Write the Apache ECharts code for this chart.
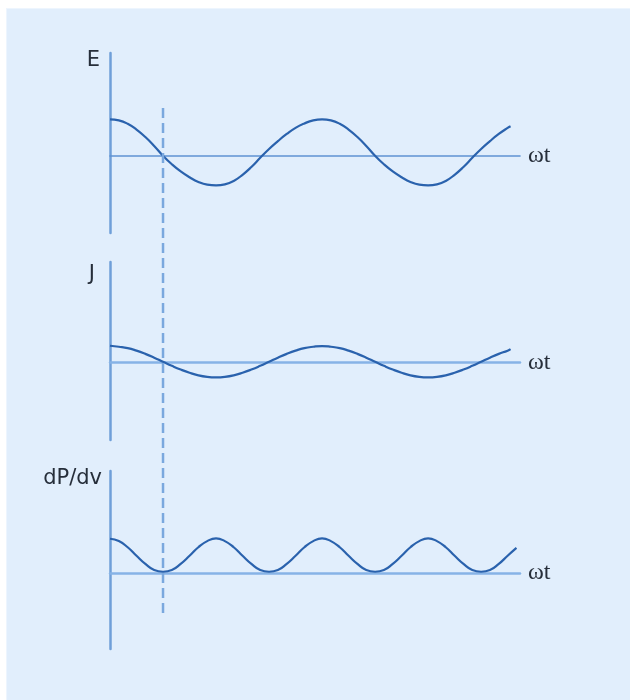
<!DOCTYPE html>
<html>
<head>
<meta charset="utf-8">
<script src="https://cdn.jsdelivr.net/npm/echarts@6/dist/echarts.min.js"></script>
<style>
  html, body { margin: 0; padding: 0; background: #ffffff; }
  #panel { position: absolute; left: 6px; top: 8px; right: 0; bottom: 0; background: #e1eefc; border-left: 1px solid #edf5fe; border-top: 1px solid #edf5fe; }
  #chart { position: absolute; left: 0; top: 0; width: 630px; height: 700px; }
</style>
</head>
<body>
<div id="panel"></div>
<div id="chart"></div>
<script>
// ωt in degrees
const wt = [0, 15, 30, 45, 60, 75, 90, 105, 120, 135, 150, 165, 180, 195, 210, 225, 240, 255, 270, 285, 300, 315, 330, 345,
  360, 375, 390, 405, 420, 435, 450, 465, 480, 495, 510, 525, 540, 555, 570, 585, 600, 615, 630, 645, 660, 675, 680]
const wtP = [0, 15, 30, 45, 60, 75, 90, 105, 120, 135, 150, 165, 180, 195, 210, 225, 240, 255, 270, 285, 300, 315, 330, 345,
  360, 375, 390, 405, 420, 435, 450, 465, 480, 495, 510, 525, 540, 555, 570, 585, 600, 615, 630, 645, 660, 675, 690]
const eVals = [1.07, 1.04, 0.94, 0.77, 0.55, 0.29, 0.00, -0.25, -0.46, -0.63, -0.77, -0.85, -0.87, -0.84, -0.74, -0.56, -0.33, -0.06, 0.20, 0.43, 0.64, 0.82, 0.95, 1.04,
  1.07, 1.04, 0.94, 0.77, 0.55, 0.29, 0.00, -0.25, -0.46, -0.63, -0.77, -0.85, -0.87, -0.84, -0.74, -0.56, -0.33, -0.06, 0.20, 0.43, 0.64, 0.82, 0.87]
const jVals = [0.50, 0.47, 0.43, 0.355, 0.26, 0.15, 0.03, -0.09, -0.20, -0.295, -0.37, -0.415, -0.43, -0.415, -0.37, -0.295, -0.20, -0.09, 0.03, 0.15, 0.26, 0.355, 0.43, 0.47,
  0.49, 0.47, 0.43, 0.355, 0.26, 0.15, 0.03, -0.09, -0.20, -0.295, -0.37, -0.415, -0.43, -0.415, -0.37, -0.295, -0.20, -0.09, 0.03, 0.15, 0.26, 0.355, 0.40]
const dpVals = [1.00, 0.93, 0.75, 0.50, 0.26, 0.08, 0.03, 0.08, 0.26, 0.50, 0.75, 0.93,
  1.01, 0.93, 0.75, 0.50, 0.26, 0.08, 0.03, 0.08, 0.26, 0.50, 0.75, 0.93,
  1.01, 0.93, 0.75, 0.50, 0.26, 0.08, 0.03, 0.08, 0.26, 0.50, 0.75, 0.93,
  1.01, 0.93, 0.75, 0.50, 0.26, 0.08, 0.03, 0.08, 0.26, 0.50, 0.73]
const dashAt = 90 // 虚线位置 ωt = 90°
const yNames = ['E', 'J', 'dP/dv']

const pairs = (xs, ys) => xs.map((x, i) => [x, ys[i]])

const curveColor = '#2a62ad'
const txtColor = '#262e3a'

const xAxisOf = (idx, lineW, lineC, showName) => ({
  gridIndex: idx, type: 'value', min: 0, max: 696,
  name: showName ? 'ωt' : '', nameLocation: 'end', nameGap: 8,
  nameTextStyle: { fontFamily: 'serif', fontSize: 24, color: txtColor, verticalAlign: 'middle' },
  axisLine: { show: showName, onZero: true, lineStyle: { color: lineC, width: lineW } },
  axisTick: { show: false }, axisLabel: { show: false }, splitLine: { show: false }
})
const yAxisOf = (idx, min, max, name, padTop, padRight) => ({
  gridIndex: idx, type: 'value', min: min, max: max,
  name: name, nameLocation: 'end', nameGap: 0,
  nameTextStyle: { fontFamily: 'DejaVu Sans', fontSize: 21, color: txtColor, align: 'right', verticalAlign: 'top', padding: [padTop, padRight, 0, 0] },
  axisLine: { show: name !== '', onZero: true, lineStyle: { color: '#6f9fd9', width: 2.5 } },
  axisTick: { show: false }, axisLabel: { show: false }, splitLine: { show: false }
})
const curve = (idx, data) => ({
  type: 'line', xAxisIndex: idx, yAxisIndex: idx, data: data,
  smooth: true, showSymbol: false, silent: true,
  lineStyle: { color: curveColor, width: 2.2 }
})

const myChart = echarts.init(document.getElementById('chart'), null, { renderer: 'canvas' })
const option = {
  backgroundColor: 'transparent',
  animation: false,
  textStyle: { fontFamily: 'Liberation Serif' },
  grid: [
    { left: 110, top: 53, width: 410, height: 180 },
    { left: 110, top: 262, width: 410, height: 178 },
    { left: 110, top: 471, width: 410, height: 178 },
    { left: 110, top: 107, width: 410, height: 506 }
  ],
  xAxis: [
    xAxisOf(0, 1.6, '#5f92d2', true),
    xAxisOf(1, 2.5, '#86b3e6', true),
    xAxisOf(2, 2.5, '#86b3e6', true),
    xAxisOf(3, 0, '#000', false)
  ],
  yAxis: [
    yAxisOf(0, -2.27, 3.02, yNames[0], -3, 10),
    yAxisOf(1, -2.27, 2.96, yNames[1], 2, 15),
    yAxisOf(2, -2.24, 2.99, yNames[2], -3, 8),
    yAxisOf(3, 0, 1, '', 0, 0)
  ],
  series: [
    curve(0, pairs(wt, eVals)),
    curve(1, pairs(wt, jVals)),
    curve(2, pairs(wtP, dpVals)),
    {
      type: 'line', xAxisIndex: 3, yAxisIndex: 3, data: [[dashAt, 0], [dashAt, 1]],
      showSymbol: false, silent: true,
      lineStyle: { color: '#7aa8de', width: 2.5, type: [10, 5] }
    }
  ]
}
myChart.setOption(option)
</script>
</body>
</html>
